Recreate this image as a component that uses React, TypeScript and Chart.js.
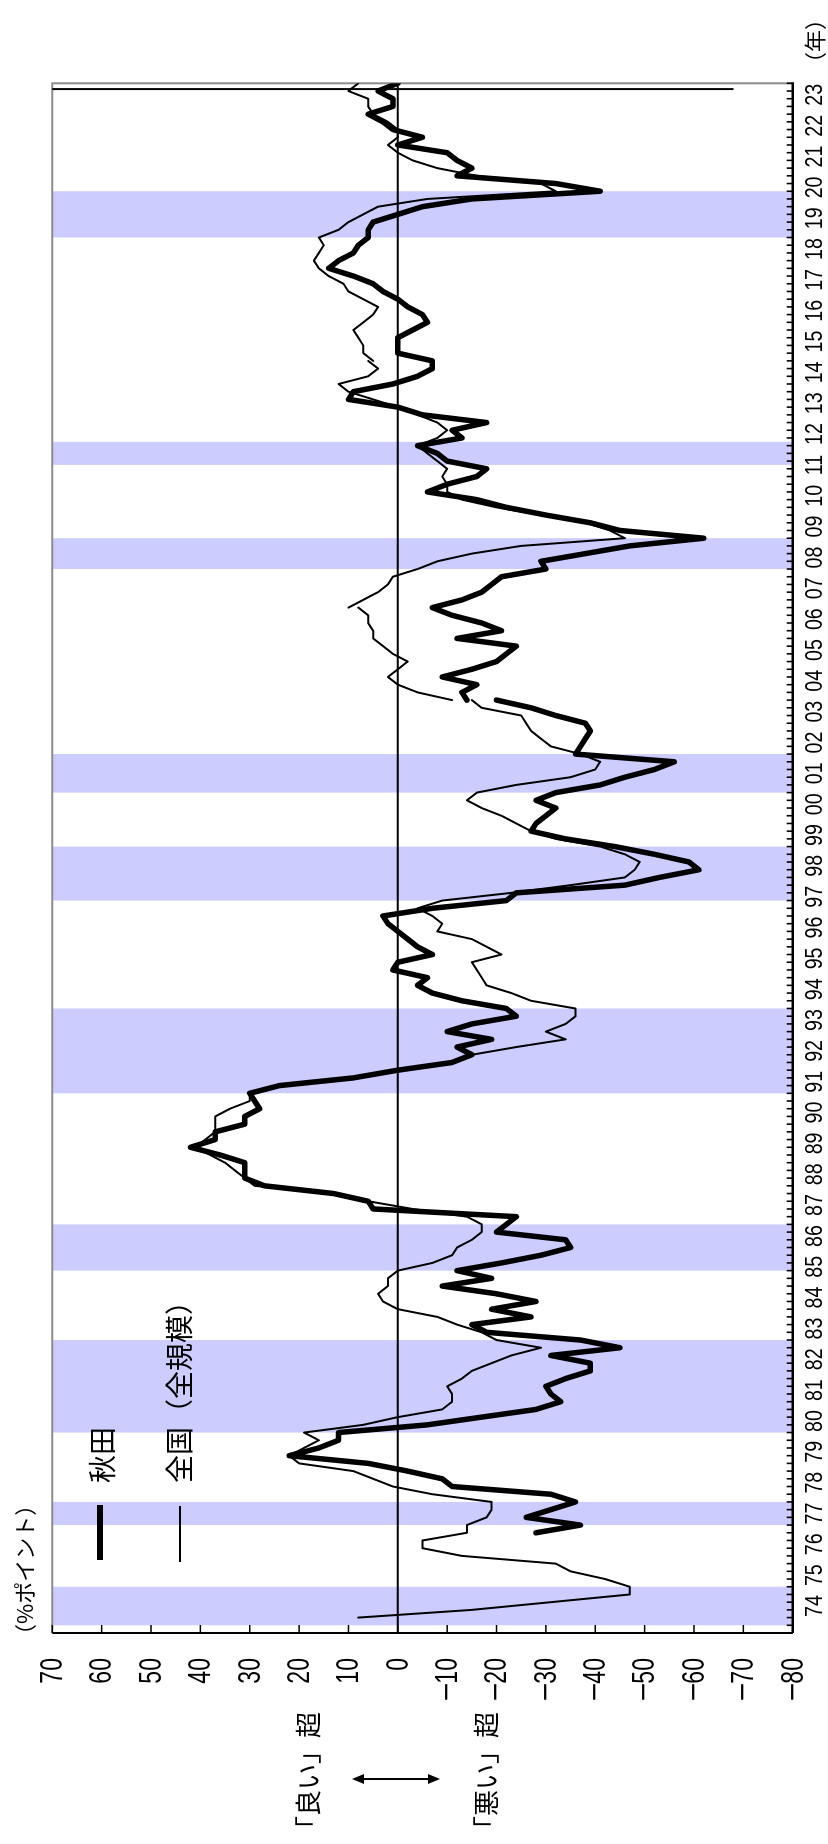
import React, { useEffect, useRef } from "react";
import { Chart, registerables } from "chart.js";

Chart.register(...registerables);

// Year tick labels (one per year, 1974 - 2023)
const yearLabels = [
  "74","75","76","77","78","79","80","81","82","83","84","85","86","87","88","89",
  "90","91","92","93","94","95","96","97","98","99","00","01","02","03","04","05",
  "06","07","08","09","10","11","12","13","14","15","16","17","18","19","20","21",
  "22","23",
];

// Value axis tick values
const valueTicks = [70, 60, 50, 40, 30, 20, 10, 0, -10, -20, -30, -40, -50, -60, -70, -80];

// Quarter index: 0 = 1974 Q1 ... 199 = 2023 Q4
const quarterMin = -2;
const quarterMax = 199;

// Recession bands (quarter index start / end)
const bandStarts = [-1, 12, 24, 45, 68, 93, 107, 136, 149.5, 179];
const bandEnds = [4, 15, 36, 51, 79, 100, 112, 140, 152.5, 185];

// Forecast marker
const forecastAt = 198.25;
const forecastTo = -68;

// 全国（全規模） – split at survey basis revisions
const zenkokuAStart = 0;
const zenkokuA = [
  8, -15, -31, -47, -47, -42, -35, -32, -13, -5,
  -5, -14, -14, -18, -19, -19, -7, 1, 5, 9,
  20, 22, 19, 16, 19, 7, 0, -9, -11, -11,
  -10, -13, -15, -19, -23, -29, -20, -17, -12, -8,
  0, 3, 4, 2, 2, 0, -7, -11, -12, -15,
  -17, -17, -14, -3, 6, 13, 29, 31, 33, 35,
  38, 41, 39, 37, 37, 37, 34, 30, 30, 24,
  9, 0, -10, -15, -24, -34, -30, -34, -36, -36,
  -27, -23, -18, -17, -16, -15, -21, -18, -15, -8,
  -9, -7, -4, -9, -23, -35, -46, -48, -49, -46,
  -41, -32, -27, -24, -21, -17, -14, -16, -24, -35,
  -40, -41, -37, -31, -29, -27, -26, -25, -17, -15,
];
const zenkokuBStart = 119;
const zenkokuB = [-11, -4, 0, 2, 0, -2, 1, 3, 5, 5, 6, 6, 8];
const zenkokuCStart = 131;
const zenkokuC = [
  10, 7, 4, 2, 1, -4, -8, -15, -25, -46,
  -43, -38, -29, -20, -13, -10, -10, -9, -10, -8,
  -6, -4, -8, -10, -8, -4, 0, 5, 10, 12,
  6, 4, 6,
];
const zenkokuDStart = 163;
const zenkokuD = [
  5, 7, 7, 8, 9, 7, 5, 4, 7, 10,
  11, 14, 16, 17, 16, 15, 16, 12, 10, 7,
  4, -6, -32, -29, -16, -8, -3, 0, 2, 0,
  0, 2, 5, 6, 6, 10, 8,
];

// 秋田 – split at the 2004 survey revision
const akitaAStart = 11;
const akitaA = [
  -28, -37, -26, -31, -36, -31, -11, -9, -2,
  6, 22, 16, 12, 12, -6, -17, -28, -33, -31,
  -30, -34, -39, -39, -31, -45, -37, -18, -15, -27,
  -19, -28, -20, -9, -19, -12, -21, -29, -35, -34,
  -20, -22, -24, 5, 6, 13, 27, 31, 31, 31,
  36, 42, 37, 37, 31, 31, 28, 29, 30, 24,
  9, 0, -11, -15, -12, -19, -10, -15, -24, -22,
  -13, -7, -4, -6, 1, 0, -7, -4, -2, 0,
  2, 3, -7, -22, -24, -46, -53, -61, -59, -52,
  -44, -34, -27, -28, -30, -32, -28, -32, -41, -46,
  -52, -56, -36, -37, -38, -39, -38, -32, -27, -20,
];
const akitaBStart = 119;
const akitaB = [
  -14, -13, -16, -9, -15, -20, -22, -24, -12, -21,
  -17, -11, -7, -13, -17, -19, -21, -30, -29, -38,
  -47, -62, -45, -39, -30, -22, -16, -6, -10, -16,
  -18, -10, -8, -4, -13, -11, -18, -5, 0, 10,
  9, 1, -4, -7, -7, 0, 0, 0, -3, -6,
  -5, -2, 0, 3, 5, 9, 14, 12, 9, 8,
  6, 6, 5, 0, -5, -15, -41, -32, -12, -15,
  -12, -10, 0, -5, 1, 3, 6, 1, 1, 4, 0,
];

const seg = (start: number, vals: number[]) =>
  vals.map((v, i) => ({ x: start + i, y: v }));

const labelFont = "'Liberation Sans', Arial, sans-serif";

const decorPlugin = {
  id: "decor",
  beforeDraw(chart: any) {
    const { ctx, chartArea: a, scales } = chart;
    const x = scales.x;
    ctx.save();
    ctx.fillStyle = "#CCCCFF";
    bandStarts.forEach((s, i) => {
      const x0 = x.getPixelForValue(s);
      const x1 = x.getPixelForValue(bandEnds[i]);
      ctx.fillRect(x0, a.top, x1 - x0, a.bottom - a.top);
    });
    ctx.restore();
  },
  beforeDatasetsDraw(chart: any) {
    const { ctx, chartArea: a, scales } = chart;
    const x = scales.x;
    const y = scales.y;
    ctx.save();
    // zero line
    ctx.strokeStyle = "#000";
    ctx.lineWidth = 2;
    const y0 = y.getPixelForValue(0);
    ctx.beginPath();
    ctx.moveTo(a.left, y0);
    ctx.lineTo(a.right, y0);
    ctx.stroke();
    // grey frame (top / right)
    ctx.strokeStyle = "#8c8c8c";
    ctx.lineWidth = 2;
    ctx.beginPath();
    ctx.moveTo(a.left, a.top);
    ctx.lineTo(a.right, a.top);
    ctx.lineTo(a.right, a.bottom);
    ctx.stroke();
    // forecast line
    ctx.strokeStyle = "#000";
    ctx.lineWidth = 2;
    const xf = x.getPixelForValue(forecastAt);
    ctx.beginPath();
    ctx.moveTo(xf, a.top);
    ctx.lineTo(xf, y.getPixelForValue(forecastTo));
    ctx.stroke();
    ctx.restore();
  },
  afterDatasetsDraw(chart: any) {
    const { ctx, chartArea: a, scales } = chart;
    const x = scales.x;
    const y = scales.y;
    ctx.save();
    ctx.strokeStyle = "#000";
    // value axis + ticks
    ctx.lineWidth = 2;
    ctx.beginPath();
    ctx.moveTo(a.left, a.top);
    ctx.lineTo(a.left, a.bottom);
    ctx.stroke();
    ctx.lineWidth = 1.5;
    valueTicks.forEach((v) => {
      const py = y.getPixelForValue(v);
      ctx.beginPath();
      ctx.moveTo(a.left, py);
      ctx.lineTo(a.left + 8, py);
      ctx.stroke();
    });
    // time axis + quarter ticks
    ctx.lineWidth = 2.5;
    ctx.beginPath();
    ctx.moveTo(a.left, a.bottom);
    ctx.lineTo(a.right + 1, a.bottom);
    ctx.stroke();
    ctx.lineWidth = 1.6;
    for (let q = quarterMin; q <= quarterMax; q++) {
      const px = x.getPixelForValue(q);
      ctx.beginPath();
      ctx.moveTo(px, a.bottom);
      ctx.lineTo(px, a.bottom - 6);
      ctx.stroke();
    }

    // axis labels (narrow figures, as in the original)
    ctx.fillStyle = "#000";
    ctx.textBaseline = "middle";
    ctx.font = `24px ${labelFont}`;
    ctx.textAlign = "center";
    yearLabels.forEach((lab, i) => {
      const px = x.getPixelForValue(4 * i + 1.5);
      ctx.save();
      ctx.translate(px, a.bottom + 22.5);
      ctx.scale(0.82, 1);
      ctx.fillText(lab, 0, 0);
      ctx.restore();
    });
    ctx.font = `32px ${labelFont}`;
    ctx.textAlign = "right";
    const sx = 0.72;
    const xr = a.left - 25;
    valueTicks.forEach((v) => {
      const py = y.getPixelForValue(v) + 1;
      const digits = String(Math.abs(v));
      ctx.save();
      ctx.translate(xr, py);
      ctx.scale(sx, 1);
      ctx.fillText(digits, 0, 0);
      ctx.restore();
      if (v < 0) {
        const w = ctx.measureText(digits).width * sx;
        ctx.fillText("\u2212", xr - w + 1, py);
      }
    });
    ctx.restore();
  },
};

const jp = "'Noto Sans CJK JP', 'Noto Sans', sans-serif";

export default function App() {
  const ref = useRef<HTMLCanvasElement>(null);

  useEffect(() => {
    const canvas = ref.current;
    if (!canvas) return;
    const thick = { borderColor: "#000", borderWidth: 5.5, pointRadius: 0, fill: false };
    const thin = { borderColor: "#000", borderWidth: 2, pointRadius: 0, fill: false };
    const chart = new Chart(canvas, {
      type: "line",
      data: {
        datasets: [
          { label: "全国（全規模）", data: seg(zenkokuAStart, zenkokuA), ...thin },
          { label: "全国（全規模）", data: seg(zenkokuBStart, zenkokuB), ...thin },
          { label: "全国（全規模）", data: seg(zenkokuCStart, zenkokuC), ...thin },
          { label: "全国（全規模）", data: seg(zenkokuDStart, zenkokuD), ...thin },
          { label: "秋田", data: seg(akitaAStart, akitaA), ...thick },
          { label: "秋田", data: seg(akitaBStart, akitaB), ...thick },
        ],
      },
      options: {
        responsive: false,
        animation: false,
        events: [],
        layout: { padding: { left: 0, top: 52.3, right: 83.3, bottom: 0 } },
        plugins: { legend: { display: false }, tooltip: { enabled: false } },
        elements: {
          point: { radius: 0 },
          line: { tension: 0, borderJoinStyle: "round", borderCapStyle: "round" },
        },
        scales: {
          x: {
            type: "linear",
            min: quarterMin,
            max: quarterMax,
            grid: { display: false, drawTicks: false },
            border: { display: false },
            afterFit: (s: any) => {
              s.height = 35.3;
            },
            ticks: { display: false },
          },
          y: {
            type: "linear",
            min: -80,
            max: 70,
            grid: { display: false, drawTicks: false },
            border: { display: false },
            afterFit: (s: any) => {
              s.width = 211;
            },
            ticks: { display: false, stepSize: 10 },
          },
        },
      } as any,
      plugins: [decorPlugin as any],
    });
    return () => chart.destroy();
  }, []);

  const txt = (extra: React.CSSProperties): React.CSSProperties => ({
    position: "absolute",
    fontFamily: jp,
    color: "#000",
    lineHeight: 1,
    whiteSpace: "nowrap",
    ...extra,
  });

  return (
    <div
      style={{
        position: "absolute",
        left: 0,
        top: 0,
        width: 828,
        height: 1844,
        overflow: "hidden",
        background: "#fff",
      }}
    >
      <div
        style={{
          position: "absolute",
          left: 0,
          top: 0,
          width: 1844,
          height: 828,
          transformOrigin: "0 0",
          transform: "translateY(1844px) rotate(-90deg)",
        }}
      >
        <canvas
          ref={ref}
          width={1844}
          height={828}
          style={{ position: "absolute", left: 0, top: 0, width: 1844, height: 828 }}
        />
        <div style={txt({ left: 198, top: 12, fontSize: 22 })}>（%ポイント）</div>
        <div style={txt({ left: 2, top: 294, fontSize: 26 })}>「良い」超</div>
        <div style={txt({ left: 2, top: 472, fontSize: 26 })}>「悪い」超</div>
        <svg
          style={{ position: "absolute", left: 50, top: 345 }}
          width={30}
          height={102}
          viewBox="0 0 30 102"
        >
          <line x1={15} y1={14} x2={15} y2={88} stroke="#000" strokeWidth={2} />
          <polygon points="15,7 10,19 20,19" fill="#000" />
          <polygon points="15,95 10,83 20,83" fill="#000" />
        </svg>
        <div
          style={{ position: "absolute", left: 284, top: 97, width: 55, height: 6, background: "#000" }}
        />
        <div style={txt({ left: 361, top: 87, fontSize: 28 })}>秋田</div>
        <div
          style={{ position: "absolute", left: 282, top: 179, width: 56, height: 2, background: "#000" }}
        />
        <div style={txt({ left: 361, top: 164, fontSize: 28 })}>全国（全規模）</div>
        <div style={txt({ left: 1770, top: 802, fontSize: 22 })}>（年）</div>
      </div>
    </div>
  );
}
